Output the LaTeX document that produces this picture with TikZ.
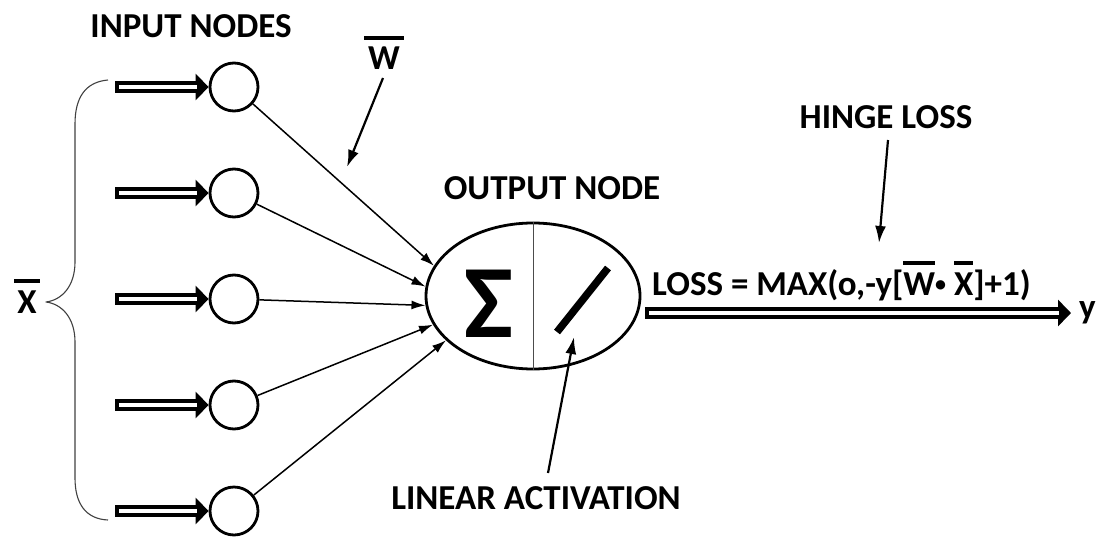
\documentclass[tikz,border=0pt]{standalone}
\usepackage{fontspec}
\setmainfont{Carlito}
\usepackage{tikz}
\usetikzlibrary{arrows.meta,positioning,calc,shapes.geometric}

\newcommand{\barred}[2][0pt]{\setbox0\hbox{#2}%
  \vbox{\offinterlineskip\hbox{\kern-#1\vrule height 4pt width \dimexpr\wd0+2\dimexpr#1\relax\relax\kern-#1}\kern 7pt\box0}}
\newcommand{\smalldot}{\raisebox{4pt}{\fontsize{22}{22}\selectfont•}}

\tikzset{
  lbl/.style={font=\fontsize{35}{38}\selectfont\bfseries, inner sep=0pt},
  innode/.style={circle, draw, line width=2.8pt, minimum size=48pt, inner sep=0pt},
  dblarrow/.style={draw, line width=12.5pt, -{Triangle[length=13pt,width=26pt]},
    postaction={draw=white, line width=4pt, arrows=-, shorten <=4pt, shorten >=12pt}},
  wire/.style={line width=1.5pt, -{Latex[length=14pt,width=9pt]}},
  pointer/.style={line width=2.2pt, -{Latex[length=17pt,width=11pt]}}
}

\begin{document}
\begin{tikzpicture}[x=1pt,y=-1pt,line join=round]
  \useasboundingbox (0,0) rectangle (1099,543);

  % input layer
  \foreach \i/\y in {1/87,2/193,3/299,4/405,5/511}{
    \node[innode] (in\i) at (234,\y) {};
    \coordinate (src\i) at (115,\y);
    \draw[dblarrow] (src\i) -- (in\i.west);
  }
  \node[lbl] (inlbl) at (191,26) {INPUT NODES};

  % brace and input vector
  \draw[line width=1.1pt, black!75]
    (108,80) .. controls (85,82) and (75,98) .. (75,124) -- (75,262)
    .. controls (75,286) and (62,300) .. (46,302)
    .. controls (62,304) and (75,318) .. (75,342) -- (75,478)
    .. controls (75,504) and (86,519) .. (108,520);
  \node[lbl, anchor=base] (xvec) at (27,313) {\barred[3pt]{X}};

  % output node
  \node[ellipse, draw, line width=2.8pt, minimum width=214pt, minimum height=146pt,
    inner sep=0pt] (out) at (533,296) {};
  \draw[line width=0.9pt, black!70] (out.north) -- (out.south);
  \node[font=\fontsize{104}{110}\selectfont\bfseries, inner sep=0pt] (sig) at (489,304) {Σ};
  \draw[line width=7.5pt] (557,332) -- (608,268);
  \node[lbl] (outlbl) at (552,188) {OUTPUT NODE};

  % weighted connections
  \foreach \i/\a in {1/163,2/175,3/185,4/196,5/207}
    \draw[wire] (in\i) -- (out.\a);

  % weight vector
  \node[lbl, anchor=base] (wvec) at (384,70) {\barred[4pt]{W}};
  \draw[pointer] (383,78) -- (347,167);

  % output and loss
  \coordinate (outsrc) at (645,313);
  \coordinate (outend) at (1071,313);
  \draw[dblarrow] (outsrc) -- (outend);
  \node[lbl, right=8pt of outend] (yout) {y};
  \node[lbl, anchor=base west] (loss) at (652,295)
    {LOSS = MAX(o,-y[\barred{W}\smalldot\ \barred{X}]+1)};
  \node[lbl] (hinge) at (886,117) {HINGE LOSS};
  \draw[pointer] (888,140) -- (879,243);

  % activation
  \node[lbl] (actlbl) at (536,498) {LINEAR ACTIVATION};
  \draw[pointer] (548,473) -- (574,337);
\end{tikzpicture}
\end{document}
